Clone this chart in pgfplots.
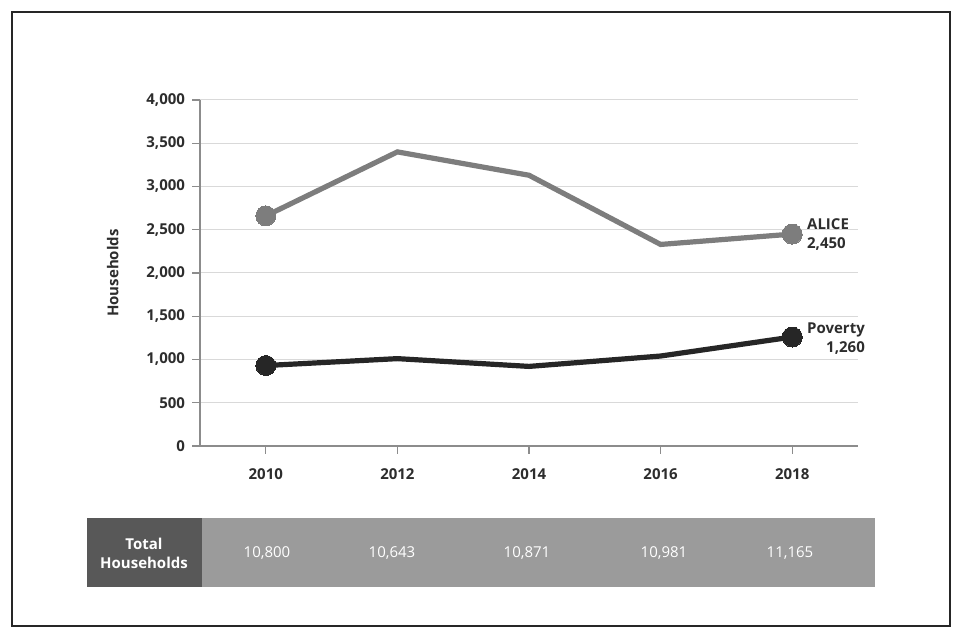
\documentclass[border=0pt]{standalone}
\usepackage{pgfplots}
\pgfplotsset{compat=1.18}
\usepackage{fontspec}
\setmainfont{Open Sans}
\definecolor{alice}{RGB}{125,125,125}
\definecolor{pov}{RGB}{38,38,38}
\definecolor{tickc}{RGB}{45,45,45}
\definecolor{darkcell}{RGB}{88,88,88}
\definecolor{graycell}{RGB}{155,155,155}
\begin{document}
\begin{tikzpicture}
% page frame, 1px = 0.5pt
\path (0,0) rectangle (481pt,317.5pt);
\draw[line width=0.8pt, black!85] (6pt,4.5pt) rectangle (475pt,311.5pt);
\begin{axis}[
    at={(100pt,94.5pt)}, anchor=south west,
    scale only axis,
    width=329pt, height=173pt,
    xmin=2009, xmax=2019,
    ymin=0, ymax=4000,
    xtick={2010,2012,2014,2016,2018},
    ytick={0,500,...,4000},
    xticklabel style={/pgf/number format/1000 sep={}},
    yticklabel style={/pgf/number format/1000 sep={,}},
    /pgf/number format/assume math mode=true,
    ticklabel style={font=\fontsize{7.5}{9}\selectfont\bfseries, text=tickc},
    xticklabel style={yshift=-4pt},
    axis x line*=bottom, axis y line*=left,
    axis line style={black!45, line width=0.6pt},
    tick style={black!45, line width=0.6pt},
    major tick length=4pt,
    tick align=outside,
    ymajorgrids=true,
    grid style={black!15, line width=0.5pt},
    ylabel={Households},
    ylabel style={font=\fontsize{7.5}{9}\selectfont\bfseries, text=tickc, yshift=7pt},
    clip=false,
]
\addplot[alice, line width=2.6pt, mark=*, mark indices={1,5}, mark size=5pt,
    mark options={fill=alice, draw=alice, line width=0pt}]
    coordinates {(2010,2660)(2012,3400)(2014,3130)(2016,2330)(2018,2450)};
\addplot[pov, line width=2.6pt, mark=*, mark indices={1,5}, mark size=5pt,
    mark options={fill=pov, draw=pov, line width=0pt}]
    coordinates {(2010,930)(2012,1010)(2014,920)(2016,1040)(2018,1260)};
\node[anchor=west, align=left, font=\fontsize{7.5}{9.5}\selectfont\bfseries, text=tickc]
    at (axis cs:2018.12,2450) {ALICE\\2,450};
\node[anchor=west, align=right, font=\fontsize{7.5}{9.5}\selectfont\bfseries, text=tickc]
    at (axis cs:2018.12,1240) {Poverty\\1,260};
\end{axis}
% total households row
\fill[graycell] (101pt,24pt) rectangle (437.5pt,58.5pt);
\fill[darkcell] (43.5pt,24pt) rectangle (101pt,58.5pt);
\node[align=center, text=white, font=\fontsize{7.5}{9.5}\selectfont\bfseries] at (72pt,41pt) {Total\\Households};
\foreach \x/\v in {133.5/{10,800},196/{10,643},263.5/{10,871},332/{10,981},395/{11,165}}
  \node[text=white, font=\fontsize{7.5}{9}\selectfont] at (\x pt,41pt) {\v};
\end{tikzpicture}
\end{document}
